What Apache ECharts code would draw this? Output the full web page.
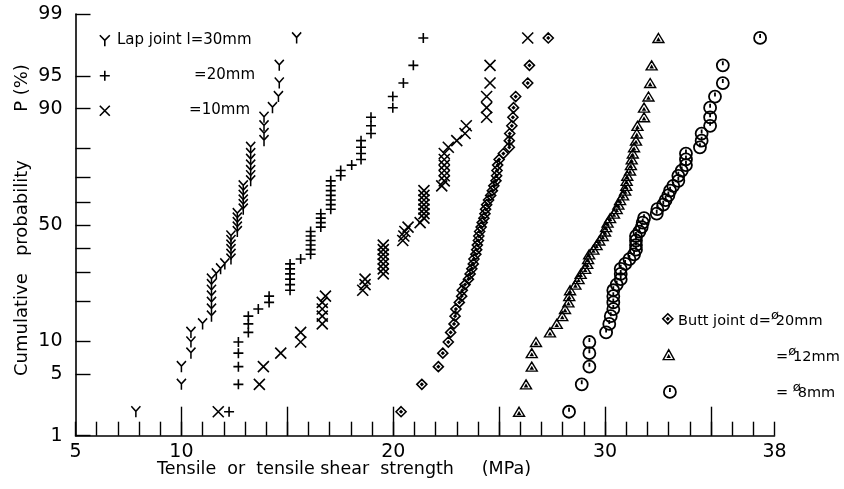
<!DOCTYPE html>
<html>
<head>
<meta charset="utf-8">
<script src="https://cdn.jsdelivr.net/npm/echarts@6/dist/echarts.min.js"></script>
<style>
  html, body { margin: 0; padding: 0; background: #fff; }
  #chart { width: 844px; height: 489px; }
</style>
</head>
<body>
<div id="chart"></div>
<script>
// strengths (MPa) in rank order, 50 specimens each
var lap30 = [7.85, 10.0, 10.0, 10.45, 10.45, 10.45, 11.0, 11.42, 11.42, 11.42, 11.42, 11.42, 11.42, 11.42, 11.65, 11.85, 12.05,
  12.34, 12.34, 12.34, 12.34, 12.34, 12.34, 12.64, 12.64, 12.64, 12.64, 12.64, 12.92, 12.92, 12.92, 12.92, 12.92, 12.92,
  13.27, 13.27, 13.27, 13.27, 13.27, 13.27, 13.27, 13.9, 13.9, 13.9, 13.9, 14.3, 14.58, 14.62, 14.62, 15.44];
var lap20 = [12.25, 12.69, 12.69, 12.69, 12.69, 13.16, 13.16, 13.16, 13.63, 14.14, 14.14, 15.13, 15.13, 15.13, 15.13, 15.13, 15.13,
  15.63, 16.1, 16.1, 16.1, 16.1, 16.1, 16.1, 16.58, 16.58, 16.58, 16.58, 17.05, 17.05, 17.05, 17.05, 17.05, 17.05, 17.05,
  17.52, 17.52, 18.04, 18.48, 18.48, 18.48, 18.48, 18.95, 18.95, 18.95, 19.98, 19.98, 20.48, 20.95, 21.42];
var lap10 = [11.74, 13.68, 13.87, 14.69, 15.63, 15.63, 16.65, 16.65, 16.65, 16.65, 16.8, 18.56, 18.67, 18.67,
  19.53, 19.53, 19.53, 19.53, 19.53, 19.53, 19.53, 20.45, 20.5, 20.55, 20.7, 21.27, 21.45, 21.45, 21.45, 21.45, 21.45, 21.45, 21.45,
  22.29, 22.41, 22.41, 22.41, 22.41, 22.41, 22.41, 22.6, 23.0, 23.39, 23.45, 24.41, 24.41, 24.41, 24.57, 24.57, 26.35];
var butt20 = [20.37, 21.35, 22.13, 22.34, 22.6, 22.71, 22.87, 22.92, 22.96, 23.12, 23.23, 23.26, 23.39, 23.55, 23.63, 23.71, 23.78,
  23.81, 23.9, 23.94, 23.97, 24.02, 24.04, 24.08, 24.15, 24.2, 24.28, 24.33, 24.36, 24.41, 24.5, 24.6, 24.68, 24.75,
  24.85, 24.88, 24.9, 24.93, 25.0, 25.2, 25.48, 25.48, 25.5, 25.6, 25.65, 25.68, 25.78, 26.35, 26.43, 27.32];
var butt12 = [25.94, 26.27, 26.54, 26.54, 26.74, 27.4, 27.72, 27.98, 28.11, 28.27, 28.31, 28.35, 28.6, 28.75, 28.85, 29.06, 29.16,
  29.2, 29.25, 29.45, 29.6, 29.73, 29.89, 30.0, 30.05, 30.12, 30.24, 30.42, 30.55, 30.63, 30.71, 30.85, 30.95, 31.0,
  31.02, 31.05, 31.18, 31.22, 31.26, 31.31, 31.37, 31.46, 31.5, 31.53, 31.84, 31.84, 32.05, 32.13, 32.2, 32.52];
var butt8 = [28.3, 28.9, 29.26, 29.26, 29.26, 30.05, 30.2, 30.27, 30.39, 30.39, 30.39, 30.39, 30.55, 30.74, 30.74, 30.74, 30.95,
  31.15, 31.37, 31.46, 31.46, 31.46, 31.46, 31.62, 31.73, 31.78, 31.84, 32.44, 32.47, 32.75, 32.86, 32.99, 33.07, 33.22,
  33.46, 33.46, 33.62, 33.82, 33.82, 33.82, 34.48, 34.56, 34.56, 34.96, 34.96, 34.96, 35.19, 35.56, 35.56, 37.32];

var xLabels = [5, 10, 20, 30, 38];
var xMajor = [10, 15, 20, 25, 30, 35];
var pTicks = [1, 5, 10, 20, 30, 40, 50, 60, 70, 80, 90, 95, 99];
var pLabels = [1, 5, 10, 50, 90, 95, 99];

// inverse normal cdf (Acklam) -> probability paper scale
function probit(p) {
  var a = [-39.6968302866538, 220.946098424521, -275.928510446969, 138.357751867269, -30.6647980661472, 2.50662827745924];
  var b = [-54.4760987982241, 161.585836858041, -155.698979859887, 66.8013118877197, -13.2806815528857];
  var c = [-0.00778489400243029, -0.322396458041136, -2.40075827716184, -2.54973253934373, 4.37466414146497, 2.93816398269878];
  var d = [0.00778469570904146, 0.32246712907004, 2.445134137143, 3.75440866190742];
  var q, r;
  if (p < 0.02425) {
    q = Math.sqrt(-2 * Math.log(p));
    return (((((c[0]*q+c[1])*q+c[2])*q+c[3])*q+c[4])*q+c[5]) / ((((d[0]*q+d[1])*q+d[2])*q+d[3])*q+1);
  }
  if (p > 1 - 0.02425) {
    q = Math.sqrt(-2 * Math.log(1 - p));
    return -(((((c[0]*q+c[1])*q+c[2])*q+c[3])*q+c[4])*q+c[5]) / ((((d[0]*q+d[1])*q+d[2])*q+d[3])*q+1);
  }
  q = p - 0.5; r = q * q;
  return (((((a[0]*r+a[1])*r+a[2])*r+a[3])*r+a[4])*r+a[5])*q / (((((b[0]*r+b[1])*r+b[2])*r+b[3])*r+b[4])*r+1);
}

// median rank plotting position i/(n+1)
function toPoints(arr) {
  return arr.map(function (v, i) { return [v, probit((i + 1) / (arr.length + 1))]; });
}

var symY = 'path://M0,0L5,5L10,0M5,5L5,11';
var symPlus = 'path://M5,0L5,10M0,5L10,5';
var symX = 'path://M0,0L10,10M10,0L0,10';
var symDia = 'path://M5,0L10,5L5,10L0,5ZM5,4L6,5L5,6L4,5Z';
var symTri = 'path://M5,0L10,9L0,9ZM5,5L6,7L4,7Z';
var symCir = 'path://M0,6A6,6 0 1,1 12,6A6,6 0 1,1 0,6ZM6,2L6,6';

var font = 'DejaVu Sans';

var chart = echarts.init(document.getElementById('chart'));

function ser(name, arr, sym, size, bw) {
  return {
    name: name, type: 'scatter', data: toPoints(arr),
    symbol: sym, symbolSize: size, symbolKeepAspect: true,
    itemStyle: { color: 'rgba(255,255,255,0)', borderColor: '#000', borderWidth: bw, opacity: 1 },
    emphasis: { disabled: true }
  };
}

function leg(name, x, y, sym, w, h, bw) {
  return {
    data: [name], left: x - w / 2, top: y - h / 2, padding: 0,
    icon: sym, itemWidth: w, itemHeight: h, selectedMode: false,
    itemStyle: { color: 'rgba(255,255,255,0)', borderColor: '#000', borderWidth: bw },
    formatter: function () { return ''; }
  };
}

var zTicks = pTicks.map(function (p) { return probit(p / 100); });
var zLabels = pLabels.map(function (p) { return probit(p / 100); });

var richPhi = { s: { fontSize: 13, fontFamily: font, verticalAlign: 'top', padding: [0, -3, 10, 0] } };

var option = {
  backgroundColor: '#fff',
  animation: false,
  grid: { left: 75.5, right: 69.5, top: 14, bottom: 53.3 },
  xAxis: [{
    type: 'value', min: 5, max: 38, interval: 1,
    axisLine: { show: true, onZero: false, lineStyle: { color: '#000', width: 1.6 } },
    axisTick: { show: true, inside: true, length: 14, lineStyle: { color: '#000', width: 1.4 } },
    axisLabel: { customValues: xLabels, color: '#000', fontSize: 19, fontFamily: font, margin: 7 },
    splitLine: { show: false }
  }, {
    type: 'value', min: 5, max: 38, position: 'bottom',
    axisLine: { show: false, onZero: false },
    axisTick: { show: true, inside: true, length: 29, customValues: xMajor, lineStyle: { color: '#000', width: 1.4 } },
    axisLabel: { show: false },
    splitLine: { show: false }
  }],
  yAxis: {
    type: 'value', min: probit(0.01), max: probit(0.99),
    axisLine: { show: true, onZero: false, lineStyle: { color: '#000', width: 1.6 } },
    axisTick: { show: true, inside: true, length: 15, customValues: zTicks, lineStyle: { color: '#000', width: 1.4 } },
    axisLabel: {
      customValues: zLabels, color: '#000', fontSize: 19, fontFamily: font, margin: 13,
      formatter: function (v) {
        for (var i = 0; i < pLabels.length; i++) {
          if (Math.abs(zLabels[i] - v) < 1e-6) return String(pLabels[i]);
        }
        return '';
      }
    },
    splitLine: { show: false }
  },
  legend: [
    leg('l=30mm', 104, 40, symY, 10, 11, 1.6),
    leg('l=20mm', 104, 75, symPlus, 10, 10, 1.6),
    leg('l=10mm', 104, 110, symX, 10, 10, 1.6),
    leg('d=20mm', 667, 318, symDia, 10, 10, 1.6),
    leg('d=12mm', 668, 354, symTri, 11, 10, 1.4),
    leg('d=8mm', 669, 391, symCir, 12, 12, 1.8)
  ],
  series: [
    ser('l=30mm', lap30, symY, [10, 11], 1.6),
    ser('l=20mm', lap20, symPlus, 10, 1.6),
    ser('l=10mm', lap10, symX, 11, 1.6),
    ser('d=20mm', butt20, symDia, 10, 1.6),
    ser('d=12mm', butt12, symTri, [11, 10], 1.4),
    ser('d=8mm', butt8, symCir, 12, 1.8)
  ],
  graphic: [
    { type: 'text', x: 117, y: 40, style: { text: 'Lap joint l=30mm', font: '15px ' + font, fill: '#000', verticalAlign: 'middle' } },
    { type: 'text', x: 255, y: 75, style: { text: '=20mm', font: '15px ' + font, fill: '#000', align: 'right', verticalAlign: 'middle' } },
    { type: 'text', x: 250, y: 110, style: { text: '=10mm', font: '15px ' + font, fill: '#000', align: 'right', verticalAlign: 'middle' } },
    { type: 'text', x: 678, y: 321, style: { text: 'Butt joint d={s|ø}20mm', font: '14.5px ' + font, fill: '#000', verticalAlign: 'middle', rich: richPhi } },
    { type: 'text', x: 776, y: 357, style: { text: '={s|ø}12mm', font: '14.5px ' + font, fill: '#000', verticalAlign: 'middle', rich: richPhi } },
    { type: 'text', x: 776, y: 393, style: { text: '= {s|ø}8mm', font: '14.5px ' + font, fill: '#000', verticalAlign: 'middle', rich: richPhi } },
    { type: 'text', x: 22, y: 268, rotation: Math.PI / 2, style: { text: 'Cumulative   probability', font: '18px ' + font, fill: '#000', align: 'center', verticalAlign: 'middle' } },
    { type: 'text', x: 22, y: 88, rotation: Math.PI / 2, style: { text: 'P (%)', font: '18px ' + font, fill: '#000', align: 'center', verticalAlign: 'middle' } },
    { type: 'text', x: 344, y: 469, style: { text: 'Tensile  or  tensile shear  strength     (MPa)', font: '17.5px ' + font, fill: '#000', align: 'center', verticalAlign: 'middle' } }
  ]
};

chart.setOption(option);
window.addEventListener('resize', function () { chart.resize(); });
</script>
</body>
</html>
